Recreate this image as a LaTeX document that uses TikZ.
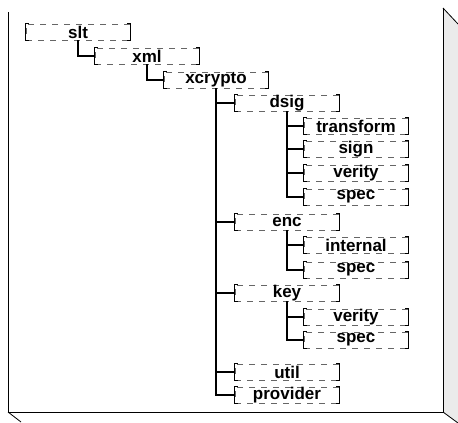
\documentclass[tikz,border=0pt]{standalone}
\usepackage{fontspec}
\setmainfont{Liberation Sans}
\begin{document}
\begin{tikzpicture}[x=1pt,y=-1pt,
    pkg/.style={draw=black!60,dash pattern=on 6pt off 6pt,line width=0.5pt,
      minimum width=104pt,minimum height=16pt,inner sep=0pt,
      font=\fontsize{17}{18}\selectfont\bfseries},
    bracket/.style={line width=0.9pt},
    branch/.style={line width=1.3pt},
    frame/.style={line width=0.8pt}]
    \useasboundingbox (0,0) rectangle (458,423);
    % panel
    \fill[black!8] (443,8) -- (458,24) -- (458,423) -- (443,412) -- cycle;
    \draw[frame] (8,12) -- (8,412) -- (443,412) -- (443,8);
    \draw[frame] (443,8) -- (458,24);
    \draw[frame] (443,412) -- (458,423);
    \draw[frame] (8,412) -- (21,422);
    % packages
    \node[pkg] (slt) at (78,32) {slt};
    \node[pkg] (xml) at (147,56) {xml};
    \node[pkg] (xcrypto) at (216,80) {xcrypto};
    \node[pkg] (dsig) at (287,103) {dsig};
    \node[pkg] (transform) at (356,126) {transform};
    \node[pkg] (dsigsign) at (356,149) {sign};
    \node[pkg] (dsigverify) at (356,173) {verity};
    \node[pkg] (dsigspec) at (356,197) {spec};
    \node[pkg] (enc) at (287,222) {enc};
    \node[pkg] (internal) at (356,245) {internal};
    \node[pkg] (encspec) at (356,270) {spec};
    \node[pkg] (key) at (287,293) {key};
    \node[pkg] (keyverify) at (356,317) {verity};
    \node[pkg] (keyspec) at (356,340) {spec};
    \node[pkg] (util) at (287,372) {util};
    \node[pkg] (provider) at (287,395) {provider};
    % box ends
    \foreach \n in {slt,xml,xcrypto,dsig,transform,dsigsign,dsigverify,dsigspec,
        enc,internal,encspec,key,keyverify,keyspec,util,provider} {
      \draw[bracket] ([xshift=3pt]\n.north west) -- (\n.north west)
        -- (\n.south west) -- ([xshift=3pt]\n.south west);
      \draw[bracket] ([xshift=-3pt]\n.north east) -- (\n.north east)
        -- (\n.south east) -- ([xshift=-3pt]\n.south east);
    }
    % tree
    \draw[branch] (slt.south) |- (xml.west);
    \draw[branch] (xml.south) |- (xcrypto.west);
    \foreach \c in {dsig,enc,key,util,provider}
      \draw[branch] (xcrypto.south) |- (\c.west);
    \foreach \c in {transform,dsigsign,dsigverify,dsigspec}
      \draw[branch] (dsig.south) |- (\c.west);
    \foreach \c in {internal,encspec}
      \draw[branch] (enc.south) |- (\c.west);
    \foreach \c in {keyverify,keyspec}
      \draw[branch] (key.south) |- (\c.west);
\end{tikzpicture}
\end{document}
